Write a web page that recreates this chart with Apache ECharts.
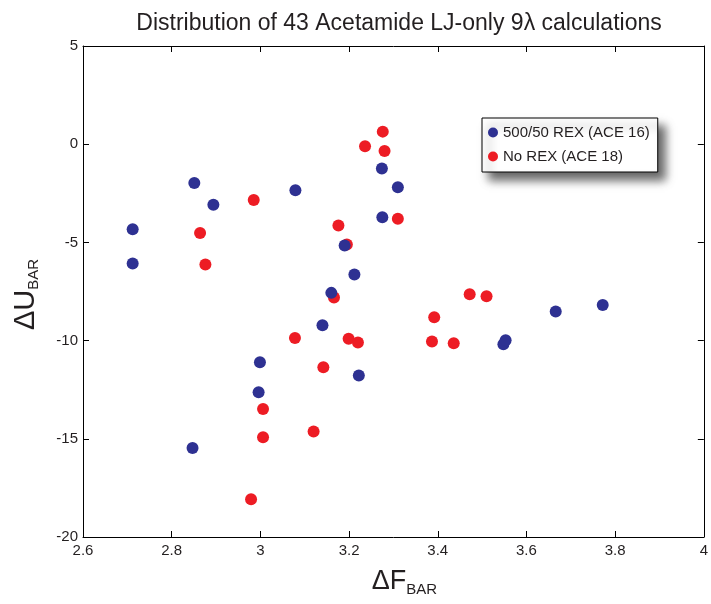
<!DOCTYPE html>
<html>
<head>
<meta charset="utf-8">
<script src="https://cdn.jsdelivr.net/npm/echarts@6/dist/echarts.min.js"></script>
<style>html,body{margin:0;padding:0;background:#fff;}#c{width:711px;height:604px;}</style>
</head>
<body>
<div id="c"></div>
<script>
const titleText = 'Distribution of 43 Acetamide LJ-only 9\u03bb calculations';
const seriesNames = ['500/50 REX (ACE 16)', 'No REX (ACE 18)'];
const blueDF = [2.712, 2.712, 2.851, 2.894, 2.847, 3.079, 2.999, 2.996, 3.274, 3.310, 3.275, 3.190, 3.212, 3.160, 3.140, 3.222, 3.548, 3.553, 3.666, 3.772];
const blueDU = [-4.33, -6.08, -1.98, -3.08, -15.47, -2.35, -11.10, -12.63, -1.24, -2.19, -3.72, -5.16, -6.64, -7.57, -9.22, -11.78, -10.19, -9.98, -8.52, -8.19];
const redDF = [3.276, 3.236, 3.280, 2.985, 3.310, 3.176, 3.195, 2.864, 2.876, 3.166, 3.078, 3.199, 3.220, 3.142, 3.006, 3.006, 3.120, 2.979, 3.472, 3.510, 3.392, 3.387, 3.436];
const redDU = [0.64, -0.11, -0.35, -2.84, -3.79, -4.14, -5.11, -4.52, -6.13, -7.81, -9.87, -9.91, -10.10, -11.36, -13.48, -14.92, -14.63, -18.08, -7.64, -7.74, -8.81, -10.04, -10.14];
const xTicks = {min: 2.6, max: 4, interval: 0.2};
const yTicks = {min: -20, max: 5, interval: 5};

const zip = (a, b) => a.map((v, i) => [v, b[i]]);
const font = 'Liberation Sans, Arial, Helvetica, sans-serif';
const ink = '#231F20';
const chart = echarts.init(document.getElementById('c'), null, {renderer: 'canvas'});
const axisCommon = {
  axisLine: {show: true, onZero: false, lineStyle: {color: '#000', width: 1}},
  axisTick: {show: true, inside: true, length: 6, lineStyle: {color: '#000'}},
  splitLine: {show: false}
};
chart.setOption({
  animation: false,
  backgroundColor: '#fff',
  title: {
    text: titleText, left: 394, top: 7, textAlign: 'center',
    textStyle: {fontFamily: font, fontSize: 23, fontWeight: 'normal', color: ink}
  },
  grid: {left: 80, right: 5, top: 46, bottom: 67, containLabel: false},
  legend: {
    data: seriesNames, orient: 'vertical', left: 482, top: 118,
    padding: [7, 8, 8, 6], itemGap: 9, icon: 'circle', itemWidth: 10, itemHeight: 10,
    backgroundColor: '#fff', borderColor: '#000', borderWidth: 1,
    shadowColor: 'rgba(0,0,0,0.6)', shadowBlur: 9, shadowOffsetX: 7, shadowOffsetY: 8,
    textStyle: {fontFamily: font, fontSize: 15, color: ink}
  },
  xAxis: [
    Object.assign({type: 'value', position: 'bottom', min: xTicks.min, max: xTicks.max, interval: xTicks.interval,
      axisLabel: {fontFamily: font, fontSize: 15, color: ink, margin: 6},
      name: '{a|\u0394F}{b|BAR}', nameLocation: 'middle', nameGap: 30,
      nameTextStyle: {padding: [0, 0, 0, 22], rich: {a: {fontFamily: font, fontSize: 27, color: ink, lineHeight: 30},
                              b: {fontFamily: font, fontSize: 15, color: ink, verticalAlign: 'bottom', lineHeight: 15, padding: [18, 0, 0, 0]}}}
    }, axisCommon),
    Object.assign({type: 'value', position: 'top', min: xTicks.min, max: xTicks.max, interval: xTicks.interval,
      axisLabel: {show: false}}, axisCommon)
  ],
  yAxis: [
    Object.assign({type: 'value', position: 'left', min: yTicks.min, max: yTicks.max, interval: yTicks.interval,
      axisLabel: {fontFamily: font, fontSize: 15, color: ink, margin: 5},
      name: '{a|\u0394U}{b|BAR}', nameLocation: 'middle', nameGap: 42, nameRotate: 90,
      nameTextStyle: {padding: [0, 6, 0, 0], rich: {a: {fontFamily: font, fontSize: 29, color: ink, lineHeight: 30},
                              b: {fontFamily: font, fontSize: 15, color: ink, verticalAlign: 'bottom', lineHeight: 15, padding: [18, 0, 0, 0]}}}
    }, axisCommon),
    Object.assign({type: 'value', position: 'right', min: yTicks.min, max: yTicks.max, interval: yTicks.interval,
      axisLabel: {show: false}}, axisCommon)
  ],
  series: [
    {name: seriesNames[1], type: 'scatter', data: zip(redDF, redDU), symbol: 'circle', symbolSize: 12,
      itemStyle: {color: '#ED1C24', opacity: 1}, z: 2},
    {name: seriesNames[0], type: 'scatter', data: zip(blueDF, blueDU), symbol: 'circle', symbolSize: 12,
      itemStyle: {color: '#2E3192', opacity: 1}, z: 3}
  ]
});
</script>
</body>
</html>
